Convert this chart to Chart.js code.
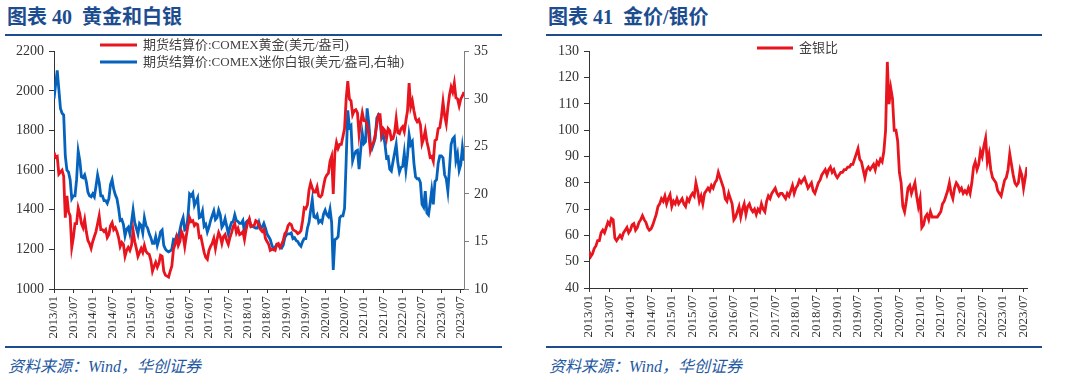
<!DOCTYPE html>
<html><head><meta charset="utf-8">
<script src="https://cdn.jsdelivr.net/npm/chart.js@4.4.0/dist/chart.umd.min.js"></script>
<style>
body{margin:0;width:1080px;height:384px;background:#fff;position:relative;overflow:hidden;font-family:"Liberation Serif","Noto Sans CJK SC",serif;}
.title{position:absolute;top:4px;font-size:20px;line-height:26px;font-weight:bold;color:#1d4d8f;white-space:pre;}
.rule{position:absolute;height:2px;background:#1d4d8f;}
.src{position:absolute;top:357px;font-size:16px;line-height:20px;font-style:italic;color:#2458a0;white-space:pre;}
.box{position:absolute;top:38px;width:540px;height:310px;}
</style></head>
<body>
<div class="title" style="left:7px">图表 40  黄金和白银</div>
<div class="title" style="left:548px">图表 41  金价/银价</div>
<div class="rule" style="left:5px;width:497px;top:34px"></div>
<div class="rule" style="left:546px;width:496px;top:34px"></div>
<div class="rule" style="left:5px;width:497px;top:346px"></div>
<div class="rule" style="left:546px;width:496px;top:346px"></div>
<div class="src" style="left:8px">资料来源：Wind，华创证券</div>
<div class="src" style="left:549px">资料来源：Wind，华创证券</div>
<div class="box" style="left:0"><canvas id="c1" width="540" height="310"></canvas></div>
<div class="box" style="left:540px"><canvas id="c2" width="540" height="310"></canvas></div>
<script>
// Half-month sampling, starting 2013/01
const tickLabels = ['2013/01','2013/07','2014/01','2014/07','2015/01','2015/07','2016/01','2016/07','2017/01','2017/07','2018/01','2018/07','2019/01','2019/07','2020/01','2020/07','2021/01','2021/07','2022/01','2022/07','2023/01','2023/07'];
const goldLabel = '期货结算价:COMEX黄金(美元/盎司)';
const silverLabel = '期货结算价:COMEX迷你白银(美元/盎司,右轴)';
const ratioLabel = '金银比';
const goldPrice = [
 1690,1665, 1670,1580, 1590,1600, 1570,1360, 1470,1390, 1370,1210, 1260,1330, 1330,1410, 1380,1330, 1310,1350, 1290,1245, 1230,1205,
 1240,1265, 1290,1330, 1370,1300, 1300,1290, 1300,1260, 1275,1320, 1335,1300, 1310,1290, 1260,1215, 1235,1225, 1165,1195, 1210,1195,
 1220,1295, 1240,1205, 1165,1185, 1205,1185, 1220,1190, 1180,1175, 1145,1090, 1115,1135, 1110,1130, 1170,1165, 1090,1070, 1065,1060,
 1090,1115, 1200,1225, 1260,1220, 1240,1290, 1270,1215, 1270,1320, 1360,1340, 1345,1320, 1330,1325, 1260,1265, 1225,1185, 1160,1150,
 1195,1215, 1230,1255, 1205,1250, 1285,1265, 1230,1265, 1275,1245, 1225,1260, 1285,1315, 1330,1285, 1305,1275, 1280,1290, 1250,1300,
 1335,1355, 1315,1320, 1320,1345, 1340,1320, 1300,1290, 1300,1255, 1240,1225, 1195,1200, 1200,1195, 1225,1230, 1210,1225, 1245,1280,
 1290,1320, 1330,1325, 1300,1295, 1290,1280, 1285,1295, 1345,1410, 1405,1425, 1500,1535, 1510,1490, 1490,1515, 1470,1465, 1475,1520,
 1560,1575, 1585,1645, 1670,1480, 1690,1740, 1710,1730, 1730,1770, 1810,1960, 2050,1960, 1950,1880, 1900,1905, 1890,1780, 1840,1890,
 1850,1850, 1830,1780, 1700,1730, 1740,1780, 1830,1880, 1880,1780, 1810,1800, 1760,1810, 1800,1755, 1760,1790, 1860,1790, 1785,1810,
 1820,1795, 1850,1900, 2040,1920, 1950,1900, 1860,1845, 1855,1830, 1735,1760, 1800,1745, 1710,1665, 1670,1645, 1750,1755, 1810,1815,
 1870,1945, 1875,1835, 1915,1980, 2020,1995, 2040,1965, 1960,1925, 1960,1975, 1995
];
const silverPrice = [
 30.0,31.5, 33.0,31.0, 29.0,28.5, 28.3,24.0, 22.5,22.3, 21.5,19.5, 19.8,19.8, 21.5,24.5, 23.5,21.8, 21.7,22.0, 21.3,20.2, 19.8,19.7,
 20.0,19.7, 20.8,22.0, 21.2,19.8, 19.8,19.3, 19.3,19.0, 19.5,21.0, 21.5,20.5, 19.9,19.5, 18.5,17.2, 17.3,16.8, 15.6,16.3, 16.5,15.8,
 17.0,18.3, 17.0,16.4, 15.8,16.9, 16.7,15.9, 17.5,16.7, 16.4,15.8, 15.4,14.8, 14.8,15.5, 14.6,15.2, 16.0,16.2, 14.6,14.2, 14.0,13.9,
 14.0,14.2, 15.2,15.1, 15.6,15.3, 16.2,17.0, 17.5,16.2, 16.3,17.6, 20.0,19.8, 20.1,18.8, 19.2,19.6, 17.5,17.6, 18.2,16.6, 16.8,16.0,
 16.5,17.2, 17.7,18.2, 17.3,17.5, 18.3,17.8, 16.5,16.8, 17.4,16.6, 15.8,16.5, 17.0,17.1, 17.8,17.2, 17.1,16.9, 16.9,17.2, 15.9,17.0,
 17.2,17.3, 16.6,16.6, 16.5,16.4, 16.4,17.0, 16.4,16.5, 16.9,16.4, 15.8,15.5, 15.2,14.6, 14.2,14.4, 14.7,14.6, 14.4,14.3, 14.6,15.4,
 15.7,15.8, 15.8,15.9, 15.3,15.4, 15.1,15.0, 14.7,14.5, 15.0,15.3, 15.3,16.4, 17.0,18.3, 19.4,17.6, 17.5,17.8, 17.0,17.2, 17.0,17.9,
 18.3,17.8, 17.6,18.4, 17.0,12.0, 15.2,15.3, 15.5,17.5, 17.7,17.7, 18.5,23.5, 28.8,27.0, 27.2,23.5, 24.1,24.5, 24.6,22.6, 24.6,26.4,
 25.3,25.5, 29.0,27.5, 25.3,24.8, 25.3,25.9, 28.0,28.3, 27.8,25.9, 26.2,25.3, 23.8,23.9, 22.6,22.4, 23.4,24.3, 25.2,23.3, 22.3,22.8,
 22.9,24.3, 22.5,24.0, 26.2,25.2, 25.5,23.2, 21.8,21.6, 21.6,21.2, 18.9,18.6, 20.3,18.0, 17.8,19.0, 20.4,18.9, 21.3,21.5, 23.2,24.0,
 24.0,23.8, 22.0,21.6, 20.3,22.7, 25.2,25.8, 26.0,23.5, 24.2,22.5, 23.1,24.9, 23.5
];
const goldSilverRatio = [
 54,52, 53,55, 56,58, 58,61, 62,61, 63,65, 64,66.5, 66,59, 58,59, 60,59, 61,62, 63,61,
 62,64, 64.5,62, 63,65, 66,67.5, 66,65, 63,62, 62.5,64, 66,68, 71,72, 74,73, 75,72, 74,75.5,
 71,73, 72,74, 72,73, 74,72, 71,74, 73,75, 76,75, 80,77, 73,75, 72,76, 77,78, 77,79,
 78,80, 81,84, 82,80, 78,74, 73,76, 74,72, 66,67, 69,71, 67,70, 72,68, 71,72, 70,69,
 70,68, 70,69, 72,70, 69,73, 75,74, 76,77, 78,76, 75,76, 76,75, 74,76, 75,77, 79,76,
 78,79, 81,80, 81,82, 80,78, 79,80, 77,76, 78,80, 81,83, 84,85, 83,85, 86,84, 85,83,
 82,83, 84,84, 85,85, 86,86, 87,87, 89,91, 93,89, 88,85, 82,85, 86,85, 86,87, 85,88,
 87,89, 88,92, 100,126, 110,116, 112,100, 100,96, 84,80, 71,69, 73,78, 79,76, 78,80, 75,71,
 74,63, 64,67, 68,66, 69,67, 67,67, 67,68, 69,72, 73,75, 77,80, 76,74, 78,80, 79,77,
 78,76, 77,76, 78,76, 80,86, 88,85, 87,92, 90,94, 97,88, 91,85, 82,81, 80,77, 76,75,
 78,81, 82,85, 91,87, 83,80, 79,80, 85,83, 78,82, 86
];

const RED = '#E8141E', BLUE = '#0563BE';
const toXY = arr => arr.map((v, i) => ({x: i / 2, y: v}));

const legendPlugin = {
  id: 'lineLegend',
  afterDraw(chart, args, opts) {
    const ctx = chart.ctx;
    ctx.save();
    ctx.font = opts.font;
    ctx.textBaseline = 'middle';
    chart.data.datasets.forEach((ds, i) => {
      const p = opts.pos[i];
      ctx.strokeStyle = ds.borderColor; ctx.lineWidth = 3;
      ctx.beginPath(); ctx.moveTo(p[0], p[1]); ctx.lineTo(p[0] + opts.len, p[1]); ctx.stroke();
      ctx.fillStyle = '#404040';
      ctx.fillText(ds.label, p[0] + opts.len + 6, p[1] + 1);
    });
    ctx.restore();
  }
};

const AX = '#333';
function xScale(h) {
  return {
    type: 'linear', min: 0, max: 127,
    afterBuildTicks: s => { s.ticks = tickLabels.map((_, i) => ({ value: i * 6 })); },
    ticks: { autoSkip: false, minRotation: 90, maxRotation: 90, padding: 3,
      font: { family: 'Liberation Serif', size: 13 }, color: '#333',
      callback: (v, i) => tickLabels[i] },
    grid: { drawOnChartArea: false, drawTicks: true, tickLength: 4, color: AX },
    border: { display: true, color: AX, width: 1 },
    afterFit: s => { s.height = h; }
  };
}
function yScale(pos, min, max, step, w, col) {
  return {
    position: pos, min, max,
    ticks: { stepSize: step, padding: 5, font: { family: 'Liberation Serif', size: 14 }, color: '#333',
      callback: v => String(v) },
    grid: { drawOnChartArea: false, drawTicks: true, tickLength: 5, color: col },
    border: { display: true, color: col, width: 1 },
    afterFit: s => { s.width = w; }
  };
}
const lineDs = (label, data, color, axis) => ({
  label, data: toXY(data), borderColor: color, backgroundColor: color,
  borderWidth: 2.8, pointRadius: 0, tension: 0, yAxisID: axis
});

new Chart(document.getElementById('c1'), {
  type: 'line',
  data: { datasets: [
    lineDs(goldLabel, goldPrice, RED, 'y'),
    lineDs(silverLabel, silverPrice, BLUE, 'y1')
  ]},
  options: {
    responsive: false, animation: false, devicePixelRatio: 1,
    layout: { padding: { left: 0, right: 36, top: 7, bottom: 0 } },
    plugins: { legend: { display: false }, tooltip: { enabled: false },
      lineLegend: { font: '13px "Liberation Serif","Noto Sans CJK SC"', len: 37, pos: [[100, 7], [100, 24]] } },
    scales: {
      x: xScale(59),
      y: yScale('left', 1000, 2200, 200, 54, AX),
      y1: yScale('right', 10, 35, 5, 40, '#808080')
    }
  },
  plugins: [legendPlugin]
});

new Chart(document.getElementById('c2'), {
  type: 'line',
  data: { datasets: [ lineDs(ratioLabel, goldSilverRatio, RED, 'y') ] },
  options: {
    responsive: false, animation: false, devicePixelRatio: 1,
    layout: { padding: { left: 0, right: 53, top: 7, bottom: 0 } },
    plugins: { legend: { display: false }, tooltip: { enabled: false },
      lineLegend: { font: '13px "Liberation Serif","Noto Sans CJK SC"', len: 36, pos: [[217, 10]] } },
    scales: {
      x: xScale(60),
      y: yScale('left', 40, 130, 10, 49, AX)
    }
  },
  plugins: [legendPlugin]
});
</script>
</body></html>
